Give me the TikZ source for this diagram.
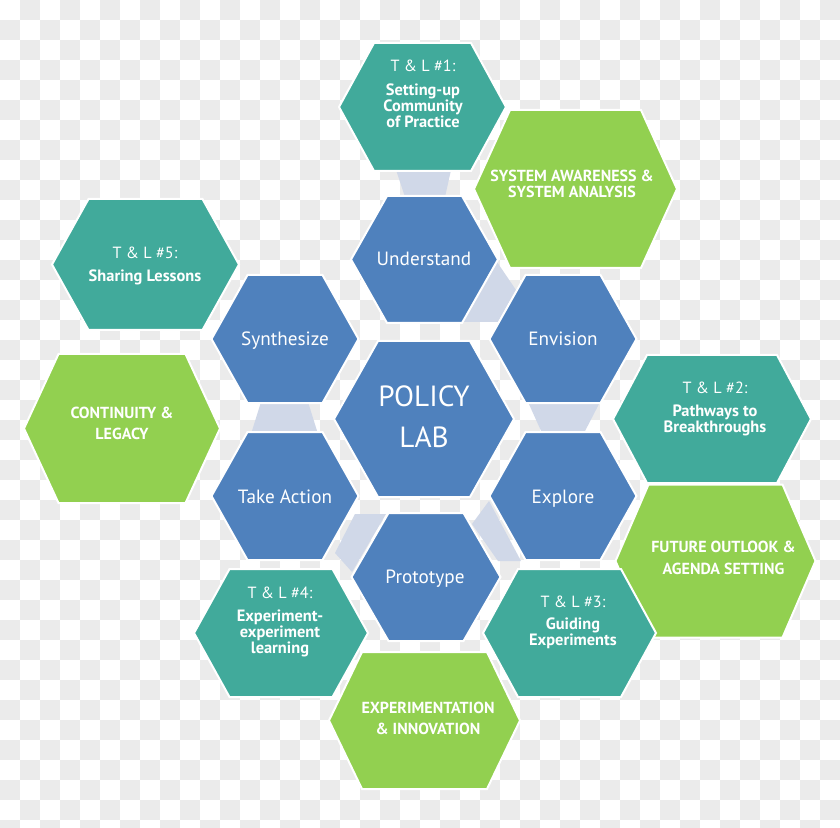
\documentclass[tikz,border=0pt]{standalone}
\usepackage{fontspec}
\setmainfont{PT Sans}
\definecolor{hexblue}{RGB}{79,129,189}
\definecolor{hexteal}{RGB}{65,170,155}
\definecolor{hexgreen}{RGB}{146,208,80}
\definecolor{linkfill}{RGB}{208,216,232}
\definecolor{checkgrey}{RGB}{235,235,235}
% #1 cx, #2 cy, #3 half width, #4 half height, #5 inset, #6 colour
\newcommand\hexshape[6]{%
  \filldraw[hexline, fill=#6]
    ({#1-#3},{#2}) -- ({#1-#3+#5},{#2-#4}) -- ({#1+#3-#5},{#2-#4}) --
    ({#1+#3},{#2}) -- ({#1+#3-#5},{#2+#4}) -- ({#1-#3+#5},{#2+#4}) -- cycle;}
\begin{document}
\begin{tikzpicture}[x=0.5pt,y=-0.5pt,
  hexline/.style={draw=white,line width=1pt,line join=miter},
  link/.style={fill=linkfill},
  lbl/.style={text=white,align=center,inner sep=0pt},
  bluelbl/.style={lbl,text depth=0pt,font=\fontsize{9.6}{10}\selectfont},
  hublbl/.style={lbl,font=\fontsize{14.6}{20.5}\selectfont},
  tltitle/.style={lbl,text depth=0pt,font=\fontsize{8.1}{8}\selectfont},
  tlbody/.style={lbl,font=\bfseries\fontsize{8.2}{8}\selectfont},
  greenlbl/.style={lbl,font=\bfseries\fontsize{8}{10.8}\selectfont},
  greenlbltight/.style={lbl,font=\bfseries\fontsize{8}{8.4}\selectfont}]
\useasboundingbox (0,0) rectangle (840,828);
% background (transparent checker)
\begin{scope}
\clip (0,0) rectangle (840,828);
\fill[white] (0,0) rectangle (840,828);
\foreach \i in {0,...,41}{
  \foreach \j in {0,...,41}{
    \pgfmathtruncatemacro\checkpar{mod(\i+\j,2)}
    \ifnum\checkpar=1 \fill[checkgrey] (\i*20,\j*20) rectangle ++(20,20); \fi
  }
}
\end{scope}
% connectors
\fill[link] (396,170) -- (451,170) -- (445,197) -- (405,197) -- cycle;
\fill[link] (497,262) -- (516,290) -- (498,322) -- (463,322) -- cycle;
\fill[link] (528,402) -- (600,402) -- (584,433) -- (542,433) -- cycle;
\fill[link] (489,501) -- (521,561) -- (498,561) -- (472,524) -- cycle;
\fill[link] (355,514) -- (386,514) -- (352,572) -- (335,553) -- cycle;
\fill[link] (261,402) -- (308,402) -- (318,434) -- (251,434) -- cycle;
% outer hexagons
\hexshape{422.5}{107}{83.5}{64}{35}{hexteal}
\hexshape{575.5}{189}{101.5}{79}{36}{hexgreen}
\hexshape{145.5}{264.5}{93.5}{65.5}{36.5}{hexteal}
\hexshape{122}{428.5}{98}{74.5}{34.5}{hexgreen}
\hexshape{712}{419}{99}{64}{34}{hexteal}
\hexshape{715.5}{561}{100}{76.5}{33}{hexgreen}
\hexshape{281}{633}{87}{64}{35.5}{hexteal}
\hexshape{569.5}{633}{86.5}{64}{35}{hexteal}
\hexshape{424.5}{720.5}{95.5}{68.5}{33}{hexgreen}
% inner hexagons
\hexshape{424.5}{259.5}{73.5}{63.5}{36}{hexblue}
\hexshape{563}{339}{73.5}{64}{36}{hexblue}
\hexshape{285}{339}{73.5}{64}{36}{hexblue}
\hexshape{285}{496}{73.5}{64}{36}{hexblue}
\hexshape{563}{496}{73.5}{64}{36}{hexblue}
\hexshape{426}{577}{74.5}{64}{37}{hexblue}
\hexshape{424}{419}{90}{78}{44}{hexblue}
% labels
\node[hublbl] (hub) at (424,417) {POLICY\\LAB};
\node[bluelbl] (understand) at (424,259) {Understand};
\node[bluelbl] (envision) at (563,339) {Envision};
\node[bluelbl] (synthesize) at (285,339) {Synthesize};
\node[bluelbl] (takeaction) at (285,497) {Take Action};
\node[bluelbl] (explore) at (563,497) {Explore};
\node[bluelbl] (prototype) at (425,577) {Prototype};
\node[tltitle] (tl1t) at (423,66) {T \& L \#1:};
\node[tlbody] (tl1) at (423,106) {Setting-up\\Community\\of Practice};
\node[tltitle] (tl2t) at (715,388) {T \& L \#2:};
\node[tlbody] (tl2) at (715,420) {Pathways to\\Breakthroughs};
\node[tltitle] (tl3t) at (573,602) {T \& L \#3:};
\node[tlbody] (tl3) at (573,633) {Guiding\\Experiments};
\node[tltitle] (tl4t) at (280,593) {T \& L \#4:};
\node[tlbody] (tl4) at (280,633) {Experiment-\\experiment\\learning};
\node[tltitle] (tl5t) at (145,253) {T \& L \#5:};
\node[tlbody] (tl5) at (145,277) {Sharing Lessons};
\node[greenlbltight] (sys) at (572,184) {SYSTEM AWARENESS \&\\SYSTEM ANALYSIS};
\node[greenlbl] (cont) at (122,423.5) {CONTINUITY \&\\LEGACY};
\node[greenlbl] (fut) at (723.5,558) {FUTURE OUTLOOK \&\\AGENDA SETTING};
\node[greenlbl] (expi) at (428,718.5) {EXPERIMENTATION\\\& INNOVATION};
\end{tikzpicture}
\end{document}
